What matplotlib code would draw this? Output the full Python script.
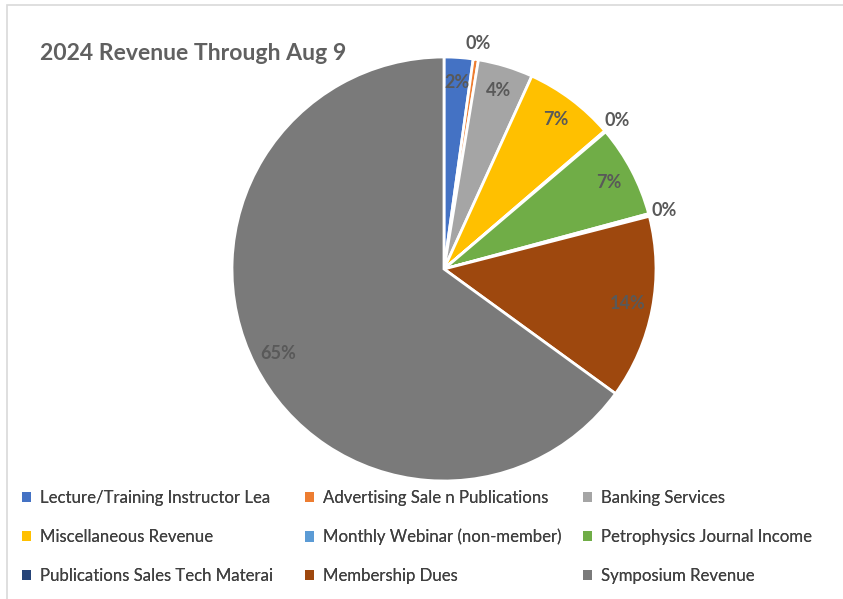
import matplotlib
matplotlib.use("Agg")
import matplotlib.pyplot as plt
from matplotlib.patches import Patch, Rectangle
import numpy as np

categories = ["Lecture/Training Instructor Lea", "Advertising Sale n Publications", "Banking Services",
              "Miscellaneous Revenue", "Monthly Webinar (non-member)", "Petrophysics Journal Income",
              "Publications Sales Tech Materai", "Membership Dues", "Symposium Revenue"]
values = [2.2, 0.4, 4.2, 6.9, 0.1, 7.0, 0.2, 14.0, 65.0]
pct_labels = ["2%", "0%", "4%", "7%", "0%", "7%", "0%", "14%", "65%"]
colors = ["#4472C4", "#ED7D31", "#A5A5A5", "#FFC000", "#5B9BD5", "#70AD47", "#264478", "#9E480E", "#7A7A7A"]

plt.rcParams['font.family'] = ['Lato', 'DejaVu Sans']
W, H = 843, 599
fig = plt.figure(figsize=(W/100, H/100), dpi=100)

# light frame
fig.add_artist(Rectangle((7/W, -0.05), 1.2, 1 - 5/H + 0.05, transform=fig.transFigure,
                         fill=False, edgecolor="#d9d9d9", linewidth=1.2))

cx, cy, r = 444, 269, 212
ax = fig.add_axes([(cx - r)/W, (H - cy - r)/H, 2*r/W, 2*r/H])
wedges, _ = ax.pie(values, colors=colors, startangle=90, counterclock=False,
                   wedgeprops=dict(edgecolor="white", linewidth=2))
ax.set_xlim(-1, 1)
ax.set_ylim(-1, 1)
ax.set_aspect('equal')
ax.axis('off')

for w, lab in zip(wedges, pct_labels):
    ang = np.deg2rad((w.theta1 + w.theta2) / 2)
    d = 1.075 if lab == "0%" else 0.88
    ax.text(d*np.cos(ang), d*np.sin(ang), lab, ha='center', va='center',
            fontsize=13, fontweight='bold', color="#595959", clip_on=False)

fig.text(40/W, 1 - 60/H, "2024 Revenue Through Aug 9", fontsize=16.6, fontweight='bold',
         color="#606060", ha='left', va='baseline')

handles = [Patch(facecolor=c, edgecolor='none') for c in colors]
col_x = [22, 305, 583]
for ci in range(3):
    idx = [ci, ci + 3, ci + 6]
    leg = fig.legend([handles[i] for i in idx], [categories[i] for i in idx],
                     loc='upper left', bbox_to_anchor=(col_x[ci]/W, 1 - 490/H),
                     frameon=False, fontsize=12.1, handlelength=0.55, handleheight=0.55,
                     handletextpad=0.55, labelspacing=1.36, borderaxespad=0, borderpad=0,
                     labelcolor="#404040")
    fig.add_artist(leg)

fig.savefig("out.png", dpi=100)
